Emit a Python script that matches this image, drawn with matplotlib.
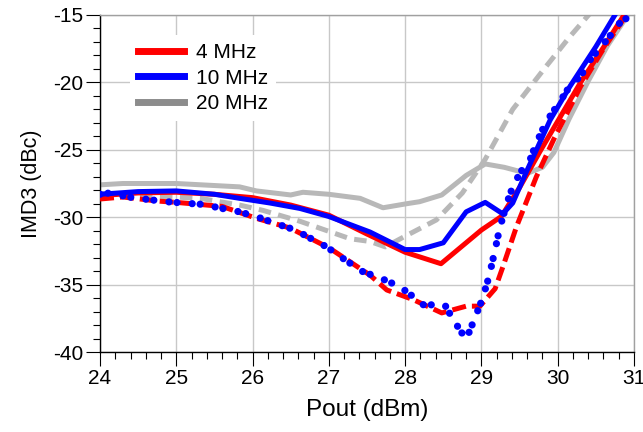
import matplotlib
matplotlib.use("Agg")
import matplotlib.pyplot as plt
from matplotlib.ticker import MultipleLocator
from matplotlib.lines import Line2D

plt.rcParams['font.family'] = ['Liberation Sans', 'DejaVu Sans']
plt.rcParams['axes.unicode_minus'] = False

# 4 MHz, measured (solid) and simulated (dashed)
x_4m_meas = [24.0, 24.5, 25.0, 25.5, 26.0, 26.5, 27.0, 27.5, 28.0, 28.47, 29.0, 29.26,
             29.5, 29.78, 30.05, 30.3, 30.6, 30.88]
y_4m_meas = [-28.4, -28.2, -28.15, -28.3, -28.55, -29.1, -29.85, -31.25, -32.6, -33.45,
             -30.95, -29.95, -27.8, -25.0, -22.4, -20.0, -17.4, -14.9]
x_4m_sim = [24.0, 24.3, 24.75, 25.0, 25.6, 26.06, 26.49, 27.01, 27.54, 27.76, 28.1, 28.48,
            28.8, 28.98, 29.18, 29.28, 29.46, 29.72, 29.95, 30.3, 30.6, 30.9]
y_4m_sim = [-28.65, -28.5, -28.8, -28.9, -29.2, -30.1, -30.8, -32.3, -34.3, -35.4, -36.1,
            -37.1, -36.6, -36.6, -35.3, -33.7, -30.7, -27.0, -24.2, -20.3, -17.5, -15.0]

# 10 MHz, measured (solid) and simulated (dotted)
x_10m_meas = [24.0, 24.5, 25.0, 25.5, 25.83, 26.23, 26.62, 27.0, 27.54, 28.0, 28.19, 28.5,
              28.8, 29.05, 29.28, 29.41, 29.6, 29.9, 30.16, 30.5, 30.75]
y_10m_meas = [-28.3, -28.1, -28.05, -28.3, -28.6, -28.95, -29.35, -29.95, -31.1, -32.4,
              -32.4, -31.9, -29.6, -28.9, -29.75, -28.95, -26.5, -22.8, -20.3, -17.35, -15.0]
x_10m_sim = [24.0, 24.13, 24.37, 24.61, 24.87, 25.14, 25.35, 25.6, 25.83, 26.07, 26.32,
             26.56, 26.77, 26.97, 27.17, 27.43, 27.71, 27.93, 28.13, 28.24, 28.41, 28.52,
             28.61, 28.71, 28.8, 28.87, 28.94, 29.01, 29.1, 29.18, 29.24, 29.34, 29.42,
             29.52, 29.64, 29.72, 29.81, 29.92, 30.0, 30.12, 30.31, 30.44, 30.57, 30.68,
             30.79, 30.9]
y_10m_sim = [-28.3, -28.2, -28.5, -28.67, -28.85, -28.97, -29.05, -29.35, -29.6, -30.0,
             -30.5, -30.95, -31.6, -32.2, -33.0, -34.0, -34.6, -35.15, -36.0, -36.5, -36.5,
             -36.5, -37.4, -38.3, -39.06, -38.1, -37.1, -36.1, -34.4, -32.4, -30.8, -28.85,
             -27.6, -26.6, -25.7, -24.5, -23.4, -22.3, -21.7, -20.6, -19.45, -18.2, -17.35,
             -16.6, -15.7, -15.25]

# 20 MHz, measured (solid) and simulated (dashed)
x_20m_meas = [24.0, 24.3, 25.0, 25.83, 26.05, 26.5, 26.66, 27.0, 27.41, 27.71, 28.02,
              28.19, 28.48, 28.8, 29.05, 29.3, 29.6, 29.8, 29.95, 30.15, 30.4, 30.65, 30.92]
y_20m_meas = [-27.6, -27.5, -27.5, -27.75, -28.05, -28.35, -28.15, -28.3, -28.6, -29.3,
              -29.0, -28.85, -28.35, -26.9, -26.05, -26.3, -26.75, -26.3, -25.2, -22.7,
              -19.9, -17.3, -15.0]
x_20m_sim = [24.0, 24.43, 25.31, 25.83, 26.14, 26.62, 27.28, 27.54, 27.74, 27.97, 28.41,
             28.75, 29.05, 29.41, 29.85, 30.16, 30.42]
y_20m_sim = [-28.25, -28.35, -28.6, -29.1, -29.5, -30.3, -31.6, -31.8, -32.2, -31.5, -30.2,
             -28.2, -25.7, -22.0, -18.8, -16.6, -14.9]

legend_labels = ['4 MHz', '10 MHz', '20 MHz']

RED = '#ff0000'
BLUE = '#0000ff'
LIGHT_GRAY = '#b8b8b8'
LEGEND_GRAY = '#8c8c8c'

fig = plt.figure(figsize=(6.43, 4.32), dpi=100)
ax = fig.add_axes([100 / 643, 1 - 352 / 432, 534 / 643, 337 / 432])

lw = 3.6
ax.plot(x_20m_sim, y_20m_sim, color=LIGHT_GRAY, lw=lw, dashes=(2.5, 1.5), zorder=2)
ax.plot(x_20m_meas, y_20m_meas, color=LIGHT_GRAY, lw=lw, zorder=2)
ax.plot(x_4m_meas, y_4m_meas, color=RED, lw=lw, zorder=3)
ax.plot(x_4m_sim, y_4m_sim, color=RED, lw=lw, dashes=(2.8, 1.2), zorder=3)
ax.plot(x_10m_meas, y_10m_meas, color=BLUE, lw=lw, zorder=4)
dots, = ax.plot(x_10m_sim, y_10m_sim, color=BLUE, lw=5.2, zorder=5,
                dash_capstyle='round')
dots.set_dashes((0.01, 1.1, 0.01, 2.1))

ax.set_xlim(24, 31)
ax.set_ylim(-40, -15)
ax.xaxis.set_major_locator(MultipleLocator(1))
ax.xaxis.set_minor_locator(MultipleLocator(0.2))
ax.yaxis.set_major_locator(MultipleLocator(5))
ax.yaxis.set_minor_locator(MultipleLocator(1))
ax.grid(True, which='major', color='#c8c8c8', lw=1.0, zorder=0)
ax.set_axisbelow(True)

ax.tick_params(which='major', direction='out', length=10, width=0.8, color='black',
               labelsize=15, pad=2)
ax.tick_params(which='minor', direction='out', length=5, width=0.8, color='black')
ax.tick_params(top=False, right=False, which='both')

for side in ('left', 'bottom'):
    ax.spines[side].set_color('black')
    ax.spines[side].set_linewidth(1.0)
for side in ('top', 'right'):
    ax.spines[side].set_color('#a0a0a0')
    ax.spines[side].set_linewidth(1.0)

ax.set_xlabel('Pout (dBm)', fontsize=17.5, labelpad=8)
ax.set_ylabel('IMD3 (dBc)', fontsize=15.5, labelpad=8)

handles = [Line2D([], [], color=c, lw=5) for c in (RED, BLUE, LEGEND_GRAY)]
leg = ax.legend(handles, legend_labels, loc='upper left',
                bbox_to_anchor=(30 / 534, 1 - 20 / 337), fontsize=15,
                frameon=True, fancybox=False, framealpha=1, edgecolor='none',
                facecolor='white', handlelength=2.2, handletextpad=0.55,
                labelspacing=0.3, borderpad=0.4, borderaxespad=0)
leg.set_zorder(6)

fig.savefig('out.png', dpi=100)
